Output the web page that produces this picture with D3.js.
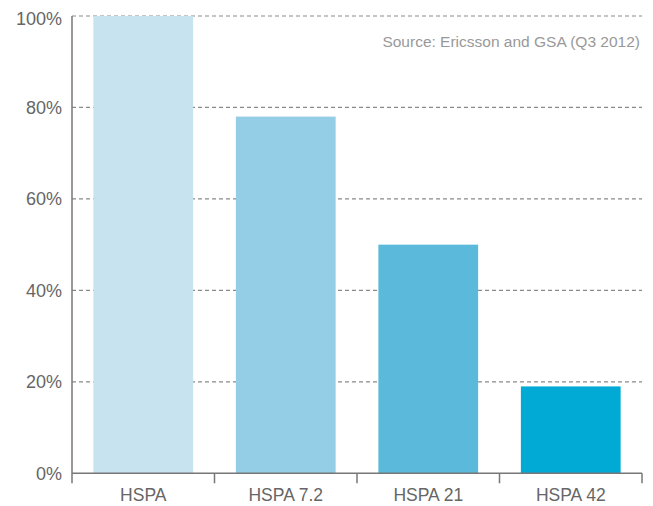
<!DOCTYPE html>
<html><head><meta charset="utf-8">
<script src="https://cdn.jsdelivr.net/npm/d3@7"></script>
<style>body{margin:0;background:#fff}svg{display:block;font-family:"Liberation Sans",Arial,sans-serif}</style>
</head><body>
<svg id="c" width="653" height="506"></svg>
<script>
const categories = ["HSPA", "HSPA 7.2", "HSPA 21", "HSPA 42"];
const values = [100, 78, 50, 19];
const colors = ["#c8e3f0", "#94cde6", "#5bbadb", "#00aad4"];
const yTicks = [0, 20, 40, 60, 80, 100];
const sourceText = "Source: Ericsson and GSA (Q3 2012)";

(function () {
const svg = d3.select("#c");
const mLeft = 72, mRight = 642, mTop = 16, mBottom = 473.3;
const x = d3.scaleBand().domain(categories).range([mLeft, mRight]).paddingInner(0.3).paddingOuter(0.15);
const y = d3.scaleLinear().domain([0, 100]).range([mBottom, mTop]);

// gridlines
svg.append("g").selectAll("line").data(yTicks.filter(d => d > 0)).join("line")
  .attr("x1", mLeft).attr("x2", mRight)
  .attr("y1", d => y(d)).attr("y2", d => y(d))
  .attr("stroke", "#8a8a8a").attr("stroke-width", 1.2).attr("stroke-dasharray", "4,3");

// bars
svg.append("g").selectAll("rect").data(categories).join("rect")
  .attr("x", d => x(d)).attr("width", x.bandwidth())
  .attr("y", (d, i) => y(values[i])).attr("height", (d, i) => mBottom - y(values[i]))
  .attr("fill", (d, i) => colors[i]);

// y axis
const yAxis = svg.append("g").attr("transform", `translate(${mLeft},0)`)
  .call(d3.axisLeft(y).tickValues(yTicks).tickFormat(d => d + "%").tickSize(0).tickPadding(10));
yAxis.select(".domain").remove();
yAxis.selectAll("text").attr("fill", "#666").style("font-size", "18px");
yAxis.selectAll(".tick").filter(d => d === 100).select("text").attr("y", 3);
svg.append("line").attr("x1", mLeft).attr("x2", mLeft).attr("y1", mTop).attr("y2", mBottom + 10)
  .attr("stroke", "#777").attr("stroke-width", 1.5);

// x axis
const bounds = categories.map(c => x(c) + x.bandwidth() + x.step() * 0.15);
svg.append("line").attr("x1", mLeft).attr("x2", mRight).attr("y1", mBottom).attr("y2", mBottom)
  .attr("stroke", "#777").attr("stroke-width", 1.5);
svg.append("g").selectAll("line").data(bounds).join("line")
  .attr("x1", d => d).attr("x2", d => d).attr("y1", mBottom).attr("y2", mBottom + 10)
  .attr("stroke", "#777").attr("stroke-width", 1.5);
const xAxis = svg.append("g").attr("transform", `translate(0,${mBottom})`)
  .call(d3.axisBottom(x).tickSize(0).tickPadding(15));
xAxis.select(".domain").remove();
xAxis.selectAll("text").attr("fill", "#666").style("font-size", "17.5px");

// source
svg.append("text").attr("x", 640).attr("y", 47).attr("text-anchor", "end")
  .attr("fill", "#999").style("font-size", "15.5px").text(sourceText);
})();
</script>
</body></html>
